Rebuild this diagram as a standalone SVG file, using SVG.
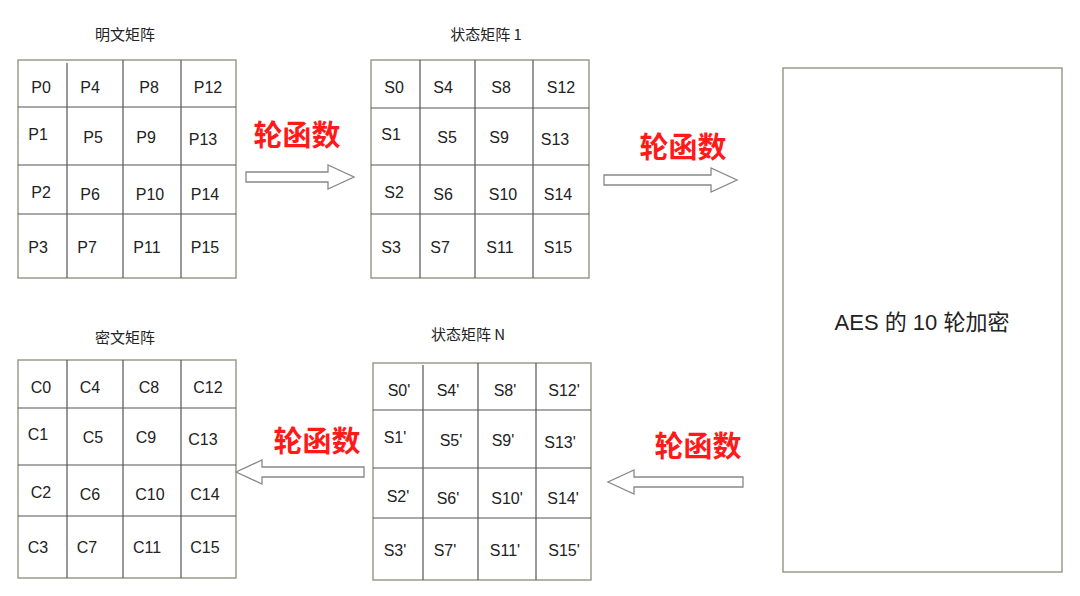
<svg xmlns="http://www.w3.org/2000/svg" width="1080" height="596" viewBox="0 0 1080 596">
<style>
.g{fill:#fff;stroke:#9a9a8a;stroke-width:1.5}
.l{stroke:#555;stroke-width:1.2}
.t{font-family:"Liberation Sans","Noto Sans CJK SC",sans-serif;font-size:16px;fill:#222;text-anchor:middle}
.h{font-family:"Noto Sans CJK SC",sans-serif;font-size:15px;fill:#222;text-anchor:middle}
.r{font-family:"Noto Sans CJK SC",sans-serif;font-size:29px;font-weight:bold;fill:#ff1a1a;text-anchor:middle}
.a{fill:#fff;stroke:#888;stroke-width:1.3}
</style>
<rect width="1080" height="596" fill="#fff"/>
<g id="plain">
<text class="h" x="125" y="40">明文矩阵</text>
<rect class="g" x="18" y="60" width="218" height="218"/>
<path class="l" d="M67 63V278M123 60V278M181 60V278M18 107H236M18 165H236M18 214H236"/>
<g class="t">
<text x="41" y="93">P0</text><text x="90" y="93">P4</text><text x="149" y="93">P8</text><text x="208" y="93">P12</text>
<text x="38" y="140">P1</text><text x="93" y="143">P5</text><text x="146" y="143">P9</text><text x="203" y="145">P13</text>
<text x="41" y="198">P2</text><text x="90" y="200">P6</text><text x="150" y="200">P10</text><text x="205" y="200">P14</text>
<text x="38" y="253">P3</text><text x="87" y="253">P7</text><text x="147" y="253">P11</text><text x="205" y="253">P15</text>
</g>
</g>
<g id="state1">
<text class="h" x="486" y="40">状态矩阵 1</text>
<rect class="g" x="371" y="60" width="218" height="218"/>
<path class="l" d="M420 60V278M475 60V278M533 60V278M371 108H589M371 165H589M371 214H589"/>
<g class="t">
<text x="394" y="93">S0</text><text x="443" y="93">S4</text><text x="501" y="93">S8</text><text x="561" y="93">S12</text>
<text x="391" y="140">S1</text><text x="447" y="143">S5</text><text x="499" y="143">S9</text><text x="555" y="145">S13</text>
<text x="394" y="198">S2</text><text x="443" y="200">S6</text><text x="503" y="200">S10</text><text x="558" y="200">S14</text>
<text x="391" y="253">S3</text><text x="440" y="253">S7</text><text x="500" y="253">S11</text><text x="558" y="253">S15</text>
</g>
</g>
<g id="cipher">
<text class="h" x="125" y="343">密文矩阵</text>
<rect class="g" x="18" y="360" width="218" height="218"/>
<path class="l" d="M67 360V578M123 360V578M181 360V578M18 408H236M18 465H236M18 516H236"/>
<g class="t">
<text x="41" y="393">C0</text><text x="90" y="393">C4</text><text x="149" y="393">C8</text><text x="208" y="393">C12</text>
<text x="38" y="440">C1</text><text x="93" y="443">C5</text><text x="146" y="443">C9</text><text x="203" y="445">C13</text>
<text x="41" y="498">C2</text><text x="90" y="500">C6</text><text x="150" y="500">C10</text><text x="205" y="500">C14</text>
<text x="38" y="553">C3</text><text x="87" y="553">C7</text><text x="147" y="553">C11</text><text x="205" y="553">C15</text>
</g>
</g>
<g id="stateN">
<text class="h" x="468" y="340">状态矩阵 N</text>
<rect class="g" x="373" y="363" width="218" height="217"/>
<path class="l" d="M423 365V580M478 363V580M536 363V580M373 410H591M373 468H591M373 518H591"/>
<g class="t">
<text x="399" y="396">S0'</text><text x="448" y="396">S4'</text><text x="505" y="396">S8'</text><text x="564" y="396">S12'</text>
<text x="395" y="443">S1'</text><text x="451" y="446">S5'</text><text x="503" y="446">S9'</text><text x="560" y="448">S13'</text>
<text x="398" y="502">S2'</text><text x="448" y="504">S6'</text><text x="507" y="504">S10'</text><text x="563" y="504">S14'</text>
<text x="395" y="556">S3'</text><text x="445" y="556">S7'</text><text x="505" y="556">S11'</text><text x="564" y="556">S15'</text>
</g>
</g>
<g id="aes">
<rect class="g" x="783" y="68" width="279" height="504"/>
<text class="t" x="922" y="330" style="font-size:22px">AES 的 10 轮加密</text>
</g>
<g id="connectors">
<path class="a" d="M246 172H328V165L354 177L328 189V182H246Z"/>
<path class="a" d="M604 175H711V168L737 180L711 192V185H604Z"/>
<path class="a" d="M364 467H262V460L236 472L262 484V477H364Z"/>
<path class="a" d="M743 477H634V470L608 482L634 494V487H743Z"/>
</g>
<g id="labels">
<text class="r" x="297" y="146">轮函数</text>
<text class="r" x="683" y="158">轮函数</text>
<text class="r" x="317" y="452">轮函数</text>
<text class="r" x="698" y="457">轮函数</text>
</g>
</svg>
